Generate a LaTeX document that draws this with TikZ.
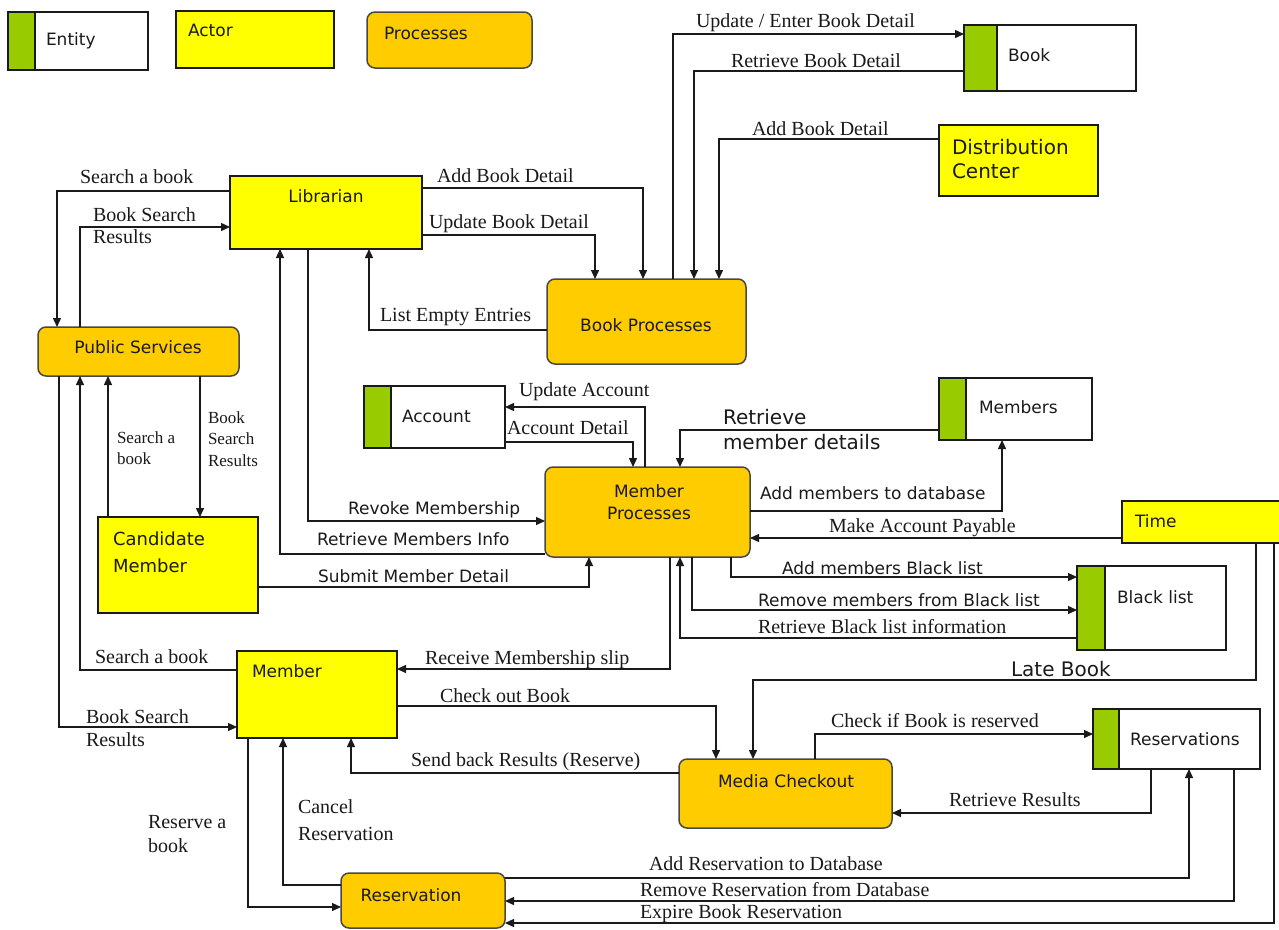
\documentclass[tikz,border=0pt]{standalone}
\usepackage{fontspec}
\setmainfont{Liberation Serif}
\newfontfamily\boxfont{DejaVu Sans}
\usetikzlibrary{arrows.meta}
\definecolor{entgreen}{HTML}{99CC00}
\definecolor{actyellow}{HTML}{FFFF00}
\definecolor{procorange}{HTML}{FFCC00}
\definecolor{ink}{HTML}{1A1A1A}
\begin{document}
\begin{tikzpicture}[x=1pt,y=-1pt,
  every node/.style={inner sep=0pt, outer sep=0pt},
  shapebase/.style={anchor=north west, line width=1.5pt},
  entity/.style={shapebase, draw=ink, fill=white,
    path picture={
      \fill[entgreen] (path picture bounding box.north west) rectangle ([xshift=#1]path picture bounding box.south west);
      \draw[ink, line width=1.5pt] ([xshift=#1]path picture bounding box.north west) -- ([xshift=#1]path picture bounding box.south west);}},
  actor/.style={shapebase, draw=ink, fill=actyellow},
  process/.style={shapebase, draw=ink!80, fill=procorange, rounded corners=8pt},
  boxtext/.style={font=\boxfont\fontsize{17}{22}\selectfont, text=ink},
  bigtext/.style={font=\boxfont\fontsize{20}{24}\selectfont, text=ink, anchor=base west},
  lbl/.style={font=\fontsize{20}{22}\selectfont, anchor=base west, text=ink},
  smalllbl/.style={font=\fontsize{17}{21.5}\selectfont, anchor=base west, text=ink},
  slbl/.style={font=\boxfont\fontsize{17}{22}\selectfont, anchor=base west, text=ink},
  blbl/.style={font=\boxfont\fontsize{20}{25}\selectfont, anchor=base west, text=ink},
  flow/.style={draw=ink, line width=1.4pt, -{Triangle[length=9pt,width=8pt]}},
]
\useasboundingbox (0,0) rectangle (1279,929);
\fill[white] (0,0) rectangle (1279,929);

% ---------- legend ----------
\node[entity=27pt, minimum width=140pt, minimum height=58pt] (legEntity) at (8,12) {};
\node[boxtext, anchor=base west] (legEntityT) at (46,45) {Entity};
\node[actor, minimum width=158pt, minimum height=57pt] (legActor) at (176,11) {};
\node[boxtext, anchor=base west] (legActorT) at (188,36) {Actor};
\node[process, minimum width=165pt, minimum height=56pt] (legProc) at (367,12) {};
\node[boxtext, anchor=base west] (legProcT) at (384,39) {Processes};

% ---------- entities ----------
\node[entity=33pt, minimum width=172pt, minimum height=66pt] (book) at (964,25) {};
\node[boxtext, anchor=base west] (bookT) at (1008,61) {Book};
\node[entity=27pt, minimum width=141pt, minimum height=62pt] (acc) at (364,386) {};
\node[boxtext, anchor=base west] (accT) at (402,422) {Account};
\node[entity=27pt, minimum width=153pt, minimum height=62pt] (mem) at (939,378) {};
\node[boxtext, anchor=base west] (memT) at (979,413) {Members};
\node[entity=28pt, minimum width=149pt, minimum height=84pt] (bl) at (1077,566) {};
\node[boxtext, anchor=base west] (blT) at (1117,603) {Black list};
\node[entity=26pt, minimum width=167pt, minimum height=60pt] (rsv) at (1093,709) {};
\node[boxtext, anchor=base west] (rsvT) at (1130,745) {Reservations};

% ---------- actors ----------
\node[actor, minimum width=159pt, minimum height=71pt] (dc) at (939,125) {};
\node[bigtext] (dcT) at (952,154) {\begin{tabular}[t]{@{}l@{}}Distribution\\Center\end{tabular}};
\node[actor, minimum width=192pt, minimum height=73pt] (lib) at (230,176) {};
\node[boxtext, anchor=base] (libT) at (326,202) {Librarian};
\node[actor, minimum width=160pt, minimum height=96pt] (cm) at (98,517) {};
\node[bigtext, font=\boxfont\fontsize{18}{27}\selectfont] (cmT) at (113,545) {\begin{tabular}[t]{@{}l@{}}Candidate\\Member\end{tabular}};
\node[actor, minimum width=166pt, minimum height=42pt] (time) at (1122,501) {};
\node[boxtext, anchor=base west] (timeT) at (1135,527) {Time};
\node[actor, minimum width=160pt, minimum height=87pt] (member) at (237,651) {};
\node[boxtext, anchor=base west] (memberT) at (252,677) {Member};

% ---------- processes ----------
\node[process, minimum width=199pt, minimum height=85pt] (bp) at (547,279) {};
\node[boxtext, anchor=base] (bpT) at (646,331) {Book Processes};
\node[process, minimum width=201pt, minimum height=49pt] (ps) at (38,327) {};
\node[boxtext, anchor=base] (psT) at (138,353) {Public Services};
\node[process, minimum width=205pt, minimum height=90pt] (mp) at (545,467) {};
\node[boxtext, anchor=base] (mpT) at (649,497) {\begin{tabular}[t]{@{}c@{}}Member\\Processes\end{tabular}};
\node[process, minimum width=213pt, minimum height=69pt] (mc) at (679,759) {};
\node[boxtext, anchor=base] (mcT) at (786,787) {Media Checkout};
\node[process, minimum width=164pt, minimum height=55pt] (res) at (341,873) {};
\node[boxtext, anchor=base] (resT) at (411,901) {Reservation};

% bend point of the late-book flow
\coordinate (lateturn) at (1256,680);

% ---------- flows: librarian / public services / book processes ----------
\draw[flow] (lib.west |- 0,191) -| (ps.north -| 57,0);
\draw[flow] (ps.north -| 80,0) |- (lib.west |- 0,227);
\draw[flow] (lib.east |- 0,188) -| (bp.north -| 643,0);
\draw[flow] (lib.east |- 0,235) -| (bp.north -| 595,0);
\draw[flow] (bp.west |- 0,330) -| (lib.south -| 369,0);
\draw[flow] (bp.north -| 673,0) |- (book.west |- 0,34);
\draw[flow] (book.west |- 0,71) -| (bp.north -| 694,0);
\draw[flow] (dc.west |- 0,139) -| (bp.north -| 719,0);

% ---------- flows: member processes ----------
\draw[flow] (mp.west |- 0,554) -| (lib.south -| 280,0);
\draw[flow] (lib.south -| 308,0) |- (mp.west |- 0,521);
\draw[flow] (cm.east |- 0,587) -| (mp.south -| 589,0);
\draw[flow] (mp.north -| 645,0) |- (acc.east |- 0,407);
\draw[flow] (acc.east |- 0,442) -| (mp.north -| 633,0);
\draw[flow] (mem.west |- 0,430) -| (mp.north -| 680,0);
\draw[flow] (mp.east |- 0,511) -| (mem.south -| 1002,0);
\draw[flow] (time.west |- 0,538) -- (mp.east |- 0,538);
\draw[flow] (mp.south -| 731,0) |- (bl.west |- 0,577);
\draw[flow] (mp.south -| 692,0) |- (bl.west |- 0,610);
\draw[flow] (bl.west |- 0,638) -| (mp.south -| 680,0);
\draw[flow] (mp.south -| 670,0) |- (member.east |- 0,669);

% ---------- flows: public services / candidate / member ----------
\draw[flow] (member.west |- 0,670) -| (ps.south -| 80,0);
\draw[flow] (ps.south -| 59,0) |- (member.west |- 0,727);
\draw[flow] (cm.north -| 108,0) -- (ps.south -| 108,0);
\draw[flow] (ps.south -| 200,0) -- (cm.north -| 200,0);

% ---------- flows: checkout and reservations ----------
\draw[flow] (member.east |- 0,706) -| (mc.north -| 716,0);
\draw[flow] (mc.west |- 0,773) -| (member.south -| 351,0);
\draw[flow] (res.west |- 0,885) -| (member.south -| 283,0);
\draw[flow] (member.south -| 248,0) |- (res.west |- 0,907);
\draw[flow] (time.south -| lateturn) -- (lateturn) -| (mc.north -| 753,0);
\draw[flow] (mc.north -| 815,0) |- (rsv.west |- 0,734);
\draw[flow] (rsv.south -| 1151,0) |- (mc.east |- 0,813);
\draw[flow] (res.east |- 0,878) -| (rsv.south -| 1189,0);
\draw[flow] (rsv.south -| 1234,0) |- (res.east |- 0,901);
\draw[flow] (time.south -| 1274,0) |- (res.east |- 0,923);

% ---------- flow labels ----------
\node[lbl] (l01) at (80,183) {Search a book};
\node[lbl] (l02) at (93,221) {\begin{tabular}[t]{@{}l@{}}Book Search\\Results\end{tabular}};
\node[lbl] (l03) at (437,182) {Add Book Detail};
\node[lbl] (l04) at (429,228) {Update Book Detail};
\node[lbl] (l05) at (380,321) {List Empty Entries};
\node[lbl] (l06) at (696,27) {Update / Enter Book Detail};
\node[lbl] (l07) at (731,67) {Retrieve Book Detail};
\node[lbl] (l08) at (752,135) {Add Book Detail};
\node[lbl] (l09) at (519,396) {Update Account};
\node[lbl] (l10) at (507,434) {Account Detail};
\node[blbl] (l11) at (723,424) {\begin{tabular}[t]{@{}l@{}}Retrieve\\member details\end{tabular}};
\node[slbl] (l12) at (760,499) {Add members to database};
\node[lbl] (l13) at (829,532) {Make Account Payable};
\node[slbl] (l14) at (782,574) {Add members Black list};
\node[slbl] (l15) at (758,606) {Remove members from Black list};
\node[lbl] (l16) at (758,633) {Retrieve Black list information};
\node[lbl] (l17) at (425,664) {Receive Membership slip};
\node[slbl] (l18) at (348,514) {Revoke Membership};
\node[slbl] (l19) at (317,545) {Retrieve Members Info};
\node[slbl] (l20) at (318,582) {Submit Member Detail};
\node[smalllbl] (l21) at (117,443) {\begin{tabular}[t]{@{}l@{}}Search a\\book\end{tabular}};
\node[smalllbl] (l22) at (208,423) {\begin{tabular}[t]{@{}l@{}}Book\\Search\\Results\end{tabular}};
\node[lbl] (l23) at (95,663) {Search a book};
\node[lbl, font=\fontsize{20}{23}\selectfont] (l24) at (86,723) {\begin{tabular}[t]{@{}l@{}}Book Search\\Results\end{tabular}};
\node[lbl] (l25) at (440,702) {Check out Book};
\node[lbl] (l26) at (411,766) {Send back Results (Reserve)};
\node[lbl, font=\fontsize{20}{27}\selectfont] (l27) at (298,813) {\begin{tabular}[t]{@{}l@{}}Cancel\\Reservation\end{tabular}};
\node[lbl, font=\fontsize{20}{24}\selectfont] (l28) at (148,828) {\begin{tabular}[t]{@{}l@{}}Reserve a\\book\end{tabular}};
\node[blbl] (l29) at (1011,676) {Late Book};
\node[lbl] (l30) at (831,727) {Check if Book is reserved};
\node[lbl] (l31) at (949,806) {Retrieve Results};
\node[lbl] (l32) at (649,870) {Add Reservation to Database};
\node[lbl] (l33) at (640,896) {Remove Reservation from Database};
\node[lbl] (l34) at (640,918) {Expire Book Reservation};
\end{tikzpicture}
\end{document}
